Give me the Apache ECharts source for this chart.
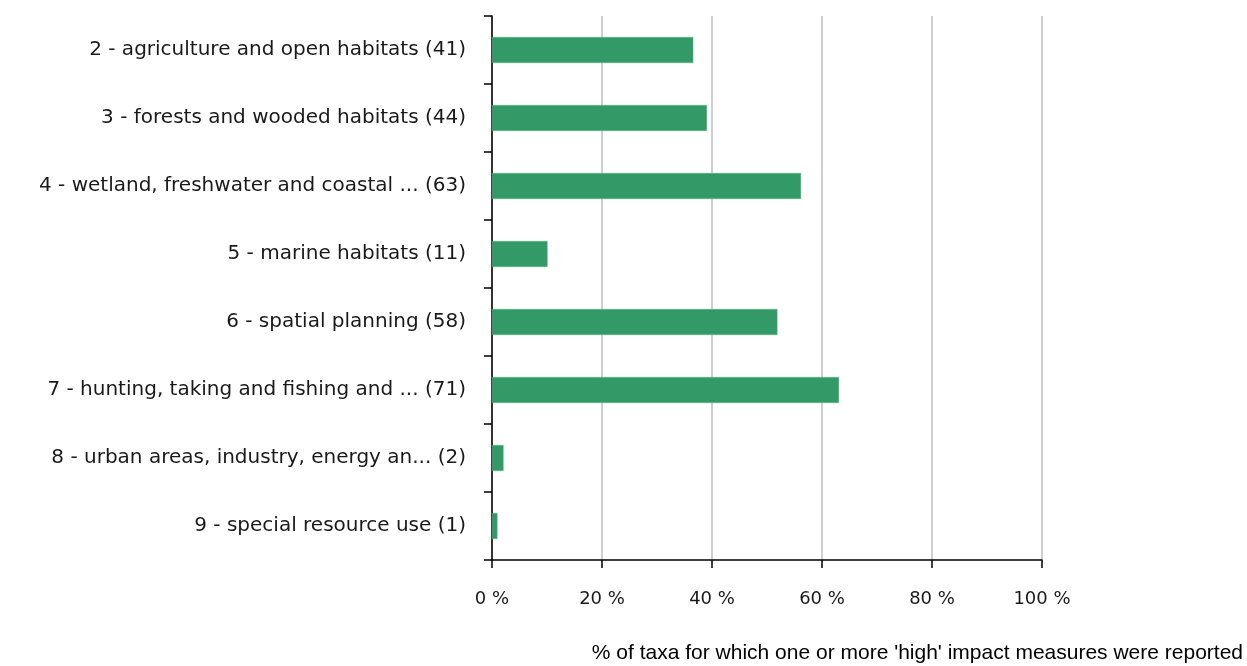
<!DOCTYPE html>
<html><head><meta charset="utf-8">
<script src="https://cdn.jsdelivr.net/npm/echarts@6/dist/echarts.min.js"></script>
<style>html,body{margin:0;padding:0;background:#fff}#c{width:1247px;height:666px}</style>
</head><body><div id="c"></div>
<script>
const categories = [
  "2 - agriculture and open habitats (41)",
  "3 - forests and wooded habitats (44)",
  "4 - wetland, freshwater and coastal ... (63)",
  "5 - marine habitats (11)",
  "6 - spatial planning (58)",
  "7 - hunting, taking and fishing and ... (71)",
  "8 - urban areas, industry, energy an... (2)",
  "9 - special resource use (1)"
];
const values = [36.6, 39.1, 56.2, 10.1, 51.9, 63.1, 2.1, 1.0];
const xTicks = [0, 20, 40, 60, 80, 100];
const axisTitle = "% of taxa for which one or more 'high' impact measures were reported";

const chart = echarts.init(document.getElementById('c'), null, {renderer: 'canvas'});
const labelFont = "'DejaVu Sans', sans-serif";
chart.setOption({
  animation: false,
  grid: {left: 492, right: 205, top: 16, bottom: 106},
  xAxis: {
    type: 'value', min: xTicks[0], max: xTicks[xTicks.length - 1], interval: 20,
    axisLine: {show: true, lineStyle: {color: '#000', width: 1.5}},
    axisTick: {show: true, length: 8, lineStyle: {color: '#000', width: 1.5}},
    splitLine: {show: true, lineStyle: {color: '#bfbfbf', width: 1.5}},
    axisLabel: {formatter: '{value} %', color: '#1a1a1a', fontSize: 18, fontFamily: labelFont, margin: 30}
  },
  yAxis: {
    type: 'category', data: categories, inverse: true,
    axisLine: {show: true, lineStyle: {color: '#000', width: 1.5}},
    axisTick: {show: true, length: 8, lineStyle: {color: '#000', width: 1.5}},
    axisLabel: {color: '#1a1a1a', fontSize: 20, fontFamily: labelFont, margin: 26}
  },
  series: [{
    type: 'bar', data: values, barWidth: 26,
    itemStyle: {color: '#339966', borderColor: '#5fb98a', borderWidth: 0.5}
  }],
  graphic: [{
    type: 'text', right: 4, top: 643,
    style: {text: axisTitle, fill: '#000', font: "21px 'Liberation Sans', Arial, sans-serif"}
  }]
});
</script></body></html>
